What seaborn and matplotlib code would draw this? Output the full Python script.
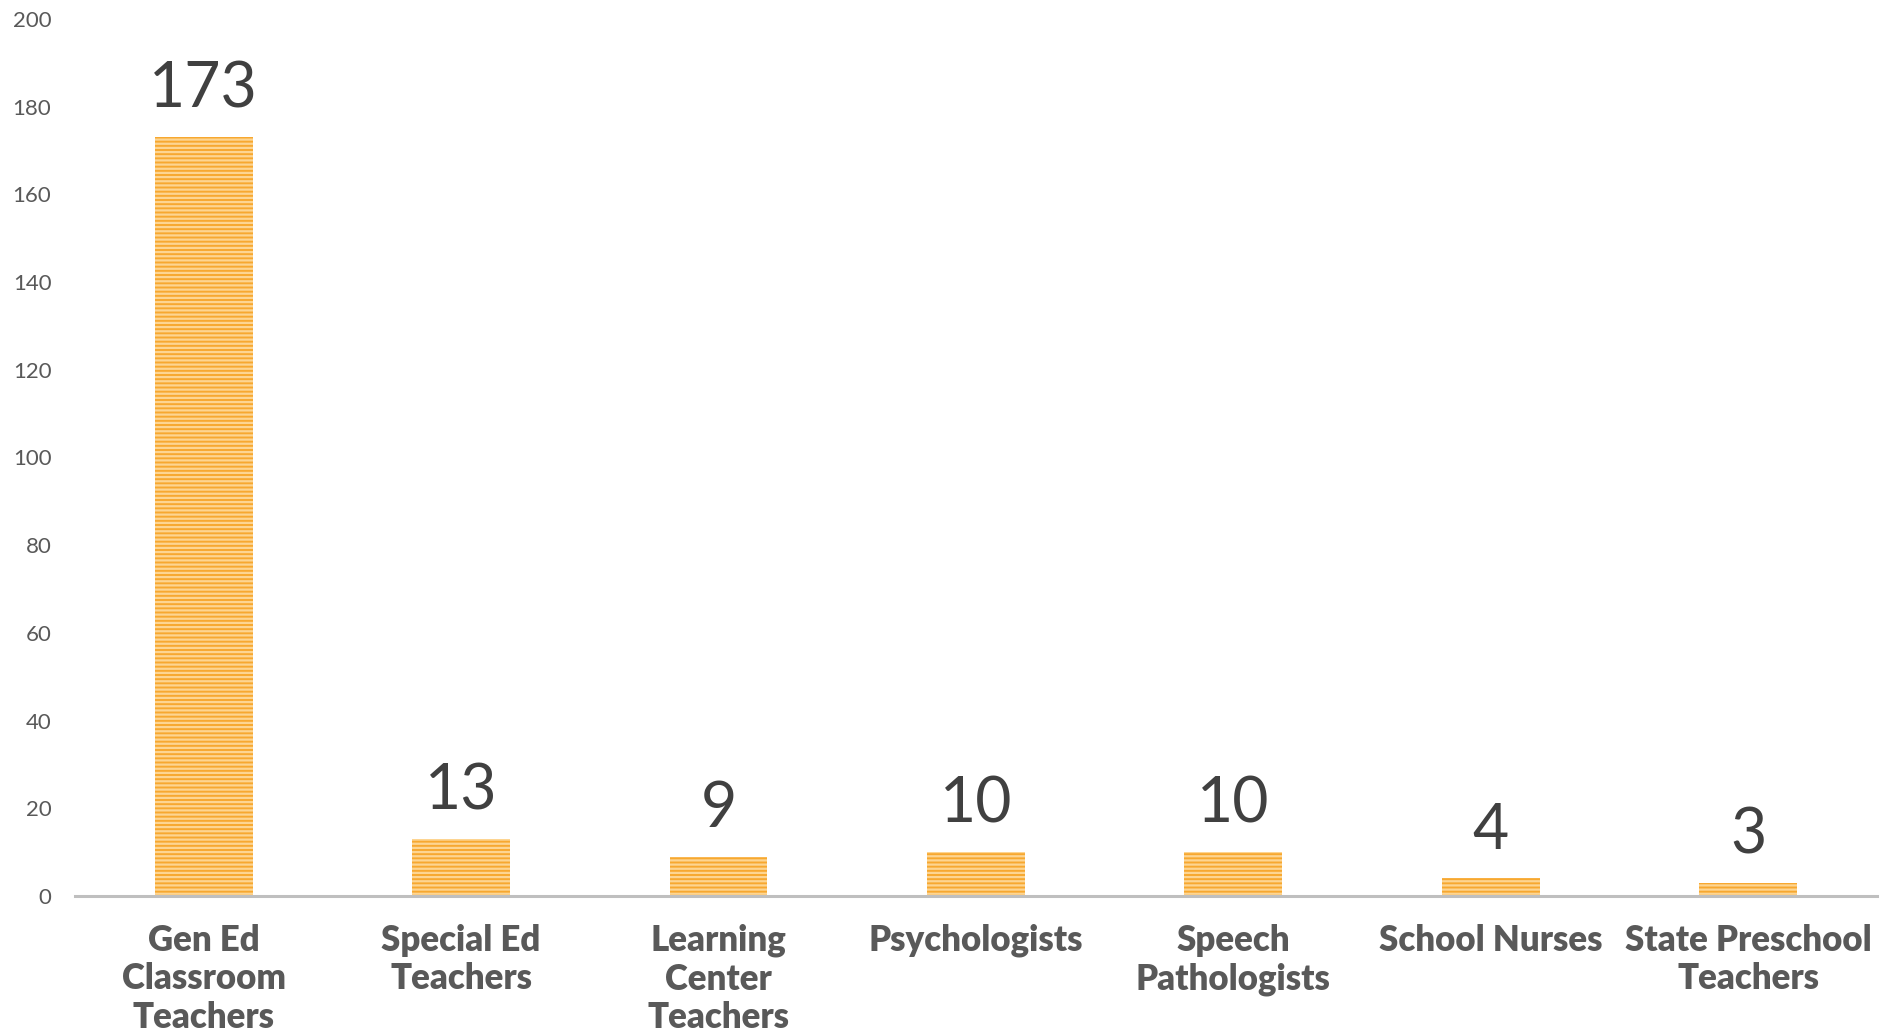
import matplotlib
matplotlib.use('Agg')
import matplotlib.pyplot as plt
import seaborn as sns
import pandas as pd

# Staff counts by role
categories = ['Gen Ed\nClassroom\nTeachers', 'Special Ed\nTeachers', 'Learning\nCenter\nTeachers',
              'Psychologists', 'Speech\nPathologists', 'School Nurses', 'State Preschool\nTeachers']
counts = [173, 13, 9, 10, 10, 4, 3]
y_ticks = list(range(0, 201, 20))

df = pd.DataFrame({'role': categories, 'count': counts})

sns.set_style('white')
plt.rcParams['font.family'] = ['Lato', 'DejaVu Sans']
plt.rcParams['hatch.linewidth'] = 1.6

fig = plt.figure(figsize=(18.98, 10.32), dpi=100)
ax = fig.add_axes([0.0395, 0.1318, 0.9494, 0.8498])

sns.barplot(data=df, x='role', y='count', color='#F7A830', width=0.38,
            saturation=1, ax=ax)

# striped fill like the original
for p in ax.patches:
    p.set_hatch('----')
    p.set_edgecolor('#FDD592')
    p.set_linewidth(0)

for i, v in enumerate(counts):
    ax.text(i, v + 4.2, str(v), ha='center', va='bottom', fontsize=45,
            color='#404040', fontweight='normal')

ax.set_ylim(0, 200)
ax.set_xlim(-0.5, len(categories) - 0.5)
ax.set_yticks(y_ticks)
ax.set_xlabel('')
ax.set_ylabel('')
ax.tick_params(axis='y', length=0, pad=17, labelsize=16, labelcolor='#595959')
ax.tick_params(axis='x', length=0, pad=20, labelsize=25, labelcolor='#595959')
for lbl in ax.get_xticklabels():
    lbl.set_fontweight('heavy')
    lbl.set_linespacing(1.2)

for s in ['top', 'right', 'left']:
    ax.spines[s].set_visible(False)
ax.spines['bottom'].set_color('#BFBFBF')
ax.spines['bottom'].set_linewidth(2.2)

fig.savefig('out.png', dpi=100, facecolor='white')
